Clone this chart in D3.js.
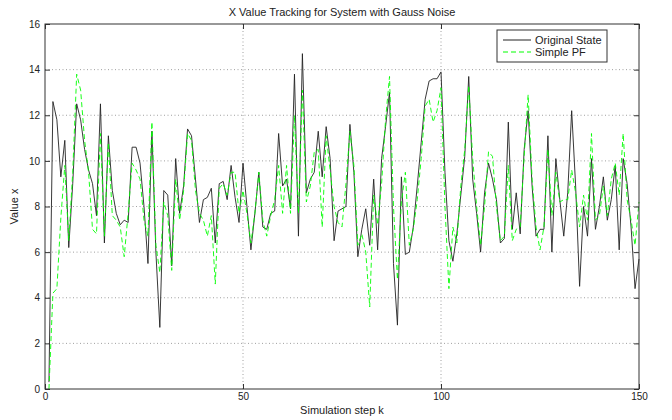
<!doctype html>
<html lang="en">
<head>
<meta charset="utf-8">
<title>X Value Tracking</title>
<script src="https://cdn.jsdelivr.net/npm/d3@7"></script>
<style>
  body { margin: 0; background: #fff; }
  svg text { font-family: "Liberation Sans", Arial, sans-serif; fill: #222; }
</style>
</head>
<body>
<div class="chart"></div>
<script>
  // k = 1..150
  const originalState = [
    0.3, 12.6, 11.8, 9.3, 10.9, 6.2, 9.0, 12.5, 11.8, 10.5,
    9.6, 9.0, 7.6, 12.5, 6.4, 11.1, 8.7, 7.7, 7.2, 7.4,
    7.3, 10.6, 10.6, 9.9, 8.0, 5.5, 11.3, 6.0, 2.7, 8.7,
    8.5, 5.4, 10.1, 7.7, 8.9, 11.4, 11.1, 9.2, 7.3, 8.3,
    8.4, 8.8, 6.4, 9.0, 9.1, 8.3, 9.8, 8.4, 7.3, 9.9,
    8.0, 6.1, 7.7, 9.5, 7.1, 7.0, 7.7, 7.8, 11.2, 8.9,
    9.2, 7.9, 13.8, 6.7, 14.7, 8.6, 9.2, 9.5, 11.3, 9.3,
    11.5, 10.1, 6.5, 7.8, 7.9, 8.0, 11.6, 9.5, 5.8, 7.0,
    7.9, 6.3, 9.2, 6.1, 10.1, 11.5, 13.0, 5.5, 2.8, 9.3,
    5.9, 6.0, 7.1, 8.9, 10.8, 12.7, 13.5, 13.6, 13.6, 13.9,
    9.5, 6.5, 5.6, 6.8, 8.5, 10.2, 13.7, 9.2, 7.7, 6.0,
    8.6, 9.9, 9.2, 8.3, 6.4, 6.6, 11.7, 7.0, 8.6, 6.8,
    10.5, 12.2, 8.9, 6.7, 7.0, 7.0, 11.1, 6.0, 10.1, 8.3,
    6.7, 8.6, 12.2, 8.9, 4.5, 8.0, 6.7, 10.1, 7.0, 8.0,
    9.3, 7.4, 8.3, 9.8, 6.1, 10.1, 9.0, 7.1, 4.4, 5.7
  ];

  const simplePF = [
    0.0, 4.2, 4.4, 7.5, 9.8, 6.5, 9.5, 13.8, 13.1, 10.9,
    9.5, 7.0, 6.8, 11.2, 6.7, 10.8, 7.6, 7.4, 7.1, 5.8,
    7.7, 9.9, 9.6, 9.2, 7.4, 6.7, 11.7, 6.3, 5.1, 8.2,
    7.6, 5.2, 9.2, 7.4, 8.7, 11.2, 10.9, 8.7, 7.7, 7.4,
    6.7, 7.6, 4.6, 8.8, 9.0, 8.5, 9.5, 9.5, 7.7, 8.7,
    7.7, 6.4, 7.7, 9.5, 7.4, 6.7, 7.6, 8.3, 9.8, 7.7,
    9.8, 7.7, 12.0, 7.7, 13.1, 8.2, 8.9, 10.4, 10.5, 7.1,
    11.1, 9.6, 8.0, 7.3, 7.1, 9.0, 11.3, 9.8, 6.3, 6.8,
    6.0, 3.6, 8.5, 7.2, 9.0, 11.8, 13.7, 8.0, 4.8, 8.2,
    9.5, 6.3, 7.0, 8.3, 10.1, 12.4, 12.7, 11.7, 12.2, 13.2,
    8.0, 4.4, 7.1, 6.4, 8.9, 10.5, 13.3, 10.1, 8.0, 6.3,
    8.0, 10.4, 10.2, 8.0, 6.5, 6.7, 9.8, 6.5, 7.0, 7.1,
    10.2, 12.9, 9.2, 7.1, 6.1, 7.1, 10.5, 7.6, 9.5, 8.2,
    8.3, 8.3, 9.6, 8.6, 7.1, 8.5, 7.4, 11.2, 7.4, 7.6,
    8.9, 7.6, 9.2, 9.9, 8.5, 11.2, 8.3, 7.4, 6.3, 8.2
  ];

  const xTicks = [0, 50, 100, 150];
  const yTicks = [0, 2, 4, 6, 8, 10, 12, 14, 16];
  const seriesNames = ['Original State', 'Simple PF'];

  const width = 672,
    height = 420,
    margin = {top: 24, right: 33, bottom: 31, left: 45};

  const x = d3.scaleLinear()
    .domain([0, 150])
    .range([margin.left, width - margin.right]);

  const y = d3.scaleLinear()
    .domain([0, 16])
    .range([height - margin.bottom, margin.top]);

  const svg = d3.select('.chart').append('svg')
    .attr('width', width)
    .attr('height', height);

  const x0 = x.range()[0], x1 = x.range()[1],
    y0 = y.range()[0], y1 = y.range()[1];

  // dotted grid
  svg.append('g')
    .selectAll('line')
    .data(xTicks.slice(1, -1))
    .join('line')
    .attr('x1', d => x(d)).attr('x2', d => x(d))
    .attr('y1', y0).attr('y2', y1)
    .attr('stroke', '#888')
    .attr('stroke-width', 0.8)
    .attr('stroke-dasharray', '1,2.5');

  svg.append('g')
    .selectAll('line')
    .data(yTicks.slice(1, -1))
    .join('line')
    .attr('x1', x0).attr('x2', x1)
    .attr('y1', d => y(d)).attr('y2', d => y(d))
    .attr('stroke', '#888')
    .attr('stroke-width', 0.8)
    .attr('stroke-dasharray', '1,2.5');

  const line = d3.line()
    .x((d, i) => x(i + 1))
    .y(d => y(d));

  svg.append('path')
    .datum(originalState)
    .attr('fill', 'none')
    .attr('stroke', '#222')
    .attr('stroke-width', 0.9)
    .attr('d', line);

  svg.append('path')
    .datum(simplePF)
    .attr('fill', 'none')
    .attr('stroke', '#00ff00')
    .attr('stroke-width', 0.9)
    .attr('stroke-dasharray', '5,3')
    .attr('d', line);

  // axes, ticks pointing inward like matlab
  const xAxis = d3.axisBottom(x).tickValues(xTicks).tickSizeInner(-5).tickSizeOuter(0).tickPadding(4);
  const yAxis = d3.axisLeft(y).tickValues(yTicks).tickSizeInner(-5).tickSizeOuter(0).tickPadding(5);

  svg.append('g')
    .attr('transform', `translate(0,${y0})`)
    .call(xAxis)
    .call(g => g.select('.domain').remove());

  svg.append('g')
    .attr('transform', `translate(0,${y1})`)
    .call(d3.axisTop(x).tickValues(xTicks).tickSizeInner(-5).tickSizeOuter(0).tickFormat(''))
    .call(g => g.select('.domain').remove());

  svg.append('g')
    .attr('transform', `translate(${x0},0)`)
    .call(yAxis)
    .call(g => g.select('.domain').remove());

  svg.append('g')
    .attr('transform', `translate(${x1},0)`)
    .call(d3.axisRight(y).tickValues(yTicks).tickSizeInner(-5).tickSizeOuter(0).tickFormat(''))
    .call(g => g.select('.domain').remove());

  svg.selectAll('.tick line').attr('stroke', '#333');
  svg.selectAll('.tick text').style('font-size', '10px').attr('fill', '#222');

  svg.append('rect')
    .attr('x', x0).attr('y', y1)
    .attr('width', x1 - x0).attr('height', y0 - y1)
    .attr('fill', 'none')
    .attr('stroke', '#333')
    .attr('stroke-width', 1);

  svg.append('text')
    .attr('x', (x0 + x1) / 2)
    .attr('y', 16)
    .attr('text-anchor', 'middle')
    .style('font-size', '11px')
    .text('X Value Tracking for System with Gauss Noise');

  svg.append('text')
    .attr('x', (x0 + x1) / 2)
    .attr('y', 414)
    .attr('text-anchor', 'middle')
    .style('font-size', '11px')
    .text('Simulation step k');

  svg.append('text')
    .attr('transform', `translate(18,${(y0 + y1) / 2}) rotate(-90)`)
    .attr('text-anchor', 'middle')
    .style('font-size', '11px')
    .text('Value x');

  // legend
  const legend = svg.append('g').attr('transform', 'translate(497,30)');

  legend.append('rect')
    .attr('width', 110).attr('height', 32)
    .attr('fill', '#fff')
    .attr('stroke', '#333');

  legend.selectAll('line')
    .data(seriesNames)
    .join('line')
    .attr('x1', 6).attr('x2', 34)
    .attr('y1', (d, i) => 10 + i * 12).attr('y2', (d, i) => 10 + i * 12)
    .attr('stroke', (d, i) => i === 0 ? '#222' : '#00ff00')
    .attr('stroke-dasharray', (d, i) => i === 0 ? null : '5,3');

  legend.selectAll('text')
    .data(seriesNames)
    .join('text')
    .attr('x', 38)
    .attr('y', (d, i) => 14 + i * 12)
    .style('font-size', '11px')
    .text(d => d);
</script>
</body>
</html>
